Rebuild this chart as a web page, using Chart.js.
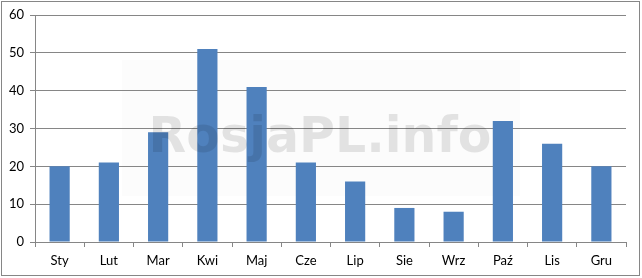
<!DOCTYPE html>
<html>
<head>
<meta charset="utf-8">
<script src="https://cdn.jsdelivr.net/npm/chart.js@4/dist/chart.umd.min.js"></script>
<style>
  body { margin:0; background:#fff; }
  canvas { display:block; }
</style>
</head>
<body>
<canvas id="wykres" width="642" height="278"></canvas>
<script>
// dane
const miesiace = ["Sty","Lut","Mar","Kwi","Maj","Cze","Lip","Sie","Wrz","Paź","Lis","Gru"];
const wartosci = [20, 21, 29, 51, 41, 21, 16, 9, 8, 32, 26, 20];
const osY = { min: 0, max: 60, krok: 10 };

const szary = "#868686";

// ramka + znak wodny
const ramka = {
  id: "ramka",
  beforeDraw(chart){
    const c = chart.ctx;
    c.save();
    c.fillStyle = "#fff";
    c.fillRect(0, 0, chart.width, chart.height);
    // delikatne tło pod napisem
    c.fillStyle = "rgba(0,0,0,0.012)";
    c.fillRect(122, 60, 398, 136);
    c.strokeStyle = szary;
    c.lineWidth = 1;
    c.strokeRect(1.5, 1.5, 638, 274);
    c.restore();
  },
  afterDatasetsDraw(chart){
    const c = chart.ctx;
    c.save();
    c.font = "bold 49px 'DejaVu Sans'";
    c.fillStyle = "rgba(0,0,0,0.10)";
    c.textAlign = "center";
    c.textBaseline = "alphabetic";
    c.fillText("RosjaPL.info", 320, 152);
    c.restore();
  }
};

new Chart(document.getElementById("wykres"), {
  type: "bar",
  data: {
    labels: miesiace,
    datasets: [{
      data: wartosci,
      backgroundColor: "#4f81bd",
      categoryPercentage: 1,
      barPercentage: 0.41
    }]
  },
  options: {
    responsive: false,
    animation: false,
    layout: { padding: { top: 15, right: 16, left: 0, bottom: 0 } },
    plugins: { legend: { display: false }, tooltip: { enabled: false } },
    scales: {
      x: {
        afterFit(s){ s.height = 36; },
        grid: { offset: true, drawOnChartArea: false, drawTicks: true, tickLength: 5, color: szary },
        border: { color: szary },
        ticks: { color: "#000", padding: 6, font: { family: "Lato", size: 13 } }
      },
      y: {
        min: osY.min,
        max: osY.max,
        afterFit(s){ s.width = 35; },
        grid: { color: szary, tickLength: 5 },
        border: { color: szary },
        ticks: { stepSize: osY.krok, color: "#000", padding: 6, font: { family: "Lato", size: 13 } }
      }
    }
  },
  plugins: [ramka]
});
</script>
</body>
</html>
